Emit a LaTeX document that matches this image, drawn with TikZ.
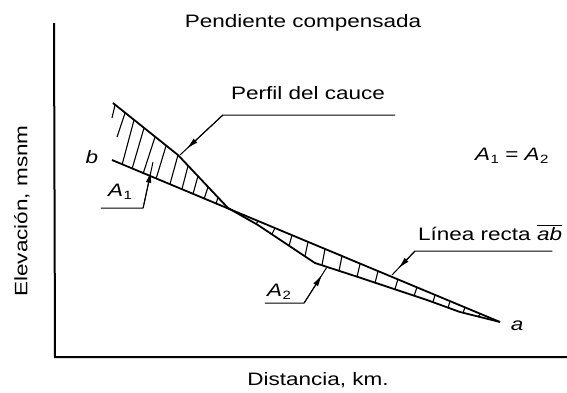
\documentclass[tikz,border=0pt]{standalone}
\usepackage{fontspec}
\setmainfont[FakeStretch=1.25]{Liberation Sans}
\usetikzlibrary{arrows.meta,calc}
\newcommand{\areasub}[2]{\textit{#1}\kern0.5pt\raisebox{-0.35ex}{\fontsize{12}{12}\selectfont #2}}

\begin{document}
\begin{tikzpicture}[x=1pt,y=-1pt]
    \tikzset{lbl/.style= {inner sep=0pt, anchor=base
    , font=\fontsize{18}{21}\selectfont
      }
    , leader/.style= {line width=1pt, line join=round}
    , tip/.style= {line width=1pt, -{Latex[length=12pt,width=5.5pt]}}
    , bed/.style= {line width=1.8pt, line join=round}
    , hatch/.style= {line width=1.1pt}
    , axis/.style= {line width=2pt}
    }

\useasboundingbox (0,0) rectangle (567,392);

\coordinate (ytop) at (54,23);
\coordinate (origin) at (55,357);
\coordinate (xend) at (567,357);
\draw[axis] (ytop) -- (origin) -- (xend);

\node [lbl] (title) at (303,27) {Pendiente compensada};
\node [lbl] (xlab) at (318,385) {Distancia, km.};
\node [lbl, anchor=center, rotate=90] (ylab) at (22,211) {Elevación, msnm};

\coordinate (ptop) at (113,103);
\coordinate (p1) at (178,155);
\coordinate (p2) at (228,208);
\coordinate (p3) at (258,225);
\coordinate (p4) at (315,263);
\coordinate (p5) at (358,277);
\coordinate (p6) at (427,300);
\coordinate (p7) at (460,312);
\coordinate (b) at (112,160);
\coordinate (a) at (500,322);

\draw[bed] (ptop) -- (p1) -- (p2) -- (p3) -- (p4) -- (p5) -- (p6) -- (p7) -- (a);
\draw[bed] (b) -- (a);

\foreach \xt/\yt/\xb/\yb in {115/105/112/118, 125/113/117/137, 134/120/122/165,
  144/128/132/169, 155/137/143/174, 166/146/156/179, 178/155/170/184,
  188/166/182/189, 198/176/193/194, 208/187/204/199, 218/197/216/204}
  \draw[hatch] (\xt,\yt) -- (\xb,\yb);

\foreach \xt/\yt/\xb/\yb in {258/221/256/224, 275/228/272/234, 292/235/289/246,
  308/242/305/256, 325/249/322/265, 342/256/339/271, 360/264/357/277,
  378/271/375/283, 398/279/395/289, 417/287/414/296, 435/295/433/302,
  450/301/448/308, 465/307/463/313, 480/314/478/317}
  \draw[hatch] (\xt,\yt) -- (\xb,\yb);

\node [lbl] (labb) at (92,163) {\textit{b}};
\node [lbl] (laba) at (517,330) {\textit{a}};

\node [lbl] (perfil) at (308,99) {Perfil del cauce};
\node [lbl, anchor=base west] (recta) at (418,240) {Línea recta $\overline{\mbox{\textit{ab}}}$};
\node [lbl, anchor=base west] (eqn) at (475,160) {\areasub{A}{1} = \areasub{A}{2}};
\node [lbl] (areaA) at (120,196) {\areasub{A}{1}};
\node [lbl] (areaB) at (279,296) {\areasub{A}{2}};

\coordinate (tgtP) at (180,155);
\coordinate (tgtR) at (392,275);
\coordinate (tgtA) at (153,162);
\coordinate (tgtB) at (327,267);

\coordinate (perfilR) at ([shift={(10,16)}]perfil.base east);
\coordinate (perfilL) at ([shift={(-8,16)}]perfil.base west);
\coordinate (rectaR) at ([shift={(-10,11)}]recta.base east);
\coordinate (rectaL) at ([shift={(-3,11)}]recta.base west);
\coordinate (areaAL) at ([shift={(-7,12)}]areaA.base west);
\coordinate (areaAR) at ([shift={(11,12)}]areaA.base east);
\coordinate (areaBL) at ([shift={(-2,7)}]areaB.base west);
\coordinate (areaBR) at ([shift={(13,7)}]areaB.base east);

\draw[leader] (perfilR) -- (perfilL) -- (tgtP);
\draw[leader] (rectaR) -- (rectaL) -- (tgtR);
\draw[leader] (areaAL) -- (areaAR) -- (tgtA);
\draw[leader] (areaBL) -- (areaBR) -- (tgtB);

\draw[tip] (perfilL) -- ($(tgtP)!9pt!(perfilL)$);
\draw[tip] (rectaL) -- ($(tgtR)!9pt!(rectaL)$);
\draw[tip] (areaAR) -- ($(tgtA)!9pt!(areaAR)$);
\draw[tip] (areaBR) -- ($(tgtB)!9pt!(areaBR)$);
\end{tikzpicture}
\end{document}
